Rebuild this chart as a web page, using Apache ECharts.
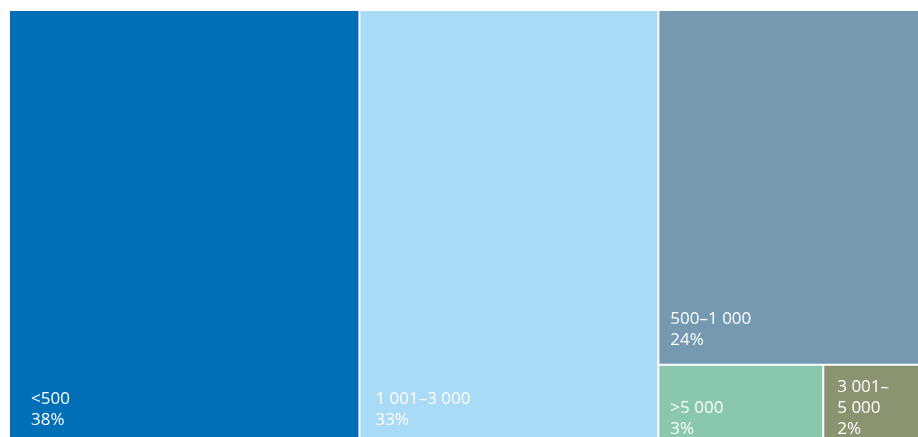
<!DOCTYPE html>
<html>
<head>
<meta charset="utf-8">
<script src="https://cdn.jsdelivr.net/npm/echarts@6/dist/echarts.min.js"></script>
<style>
  html, body { margin: 0; padding: 0; background: #fff; }
  #chart { width: 918px; height: 437px; }
</style>
</head>
<body>
<div id="chart"></div>
<script>
// size classes and their share (%)
var categories = ["<500", "1 001–3 000", "500–1 000", ">5 000", "3 001–5 000"];
var shares = [38.45, 32.8, 23.7, 3.1, 1.8];
var colors = ["#006fb7", "#a9daf6", "#7499b0", "#89c8ad", "#8a9470"];
// label nudges so the text sits where it does in the original
var labelOffsets = [[21, -6], [15, -6], [11, -13], [11, 3], [13, 3]];

var chart = echarts.init(document.getElementById("chart"));

var data = categories.map(function (name, i) {
  return {
    name: name,
    value: shares[i],
    itemStyle: { color: colors[i] },
    label: { offset: labelOffsets[i] }
  };
});

var option = {
  series: [
    {
      type: "treemap",
      left: 10,
      top: 11,
      right: 0,
      bottom: 0,
      roam: false,
      nodeClick: false,
      breadcrumb: { show: false },
      squareRatio: 1,
      itemStyle: {
        borderWidth: 0,
        gapWidth: 2,
        borderColor: "#fff"
      },
      label: {
        show: true,
        position: "insideBottomLeft",
        distance: 0,
        padding: 0,
        color: "#fff",
        fontFamily: "Open Sans",
        fontSize: 17,
        lineHeight: 21,
        overflow: "none",
        formatter: function (p) {
          var name = p.name;
          if (name === "3 001–5 000") name = "3 001–\n5 000";
          return name + "\n" + Math.round(p.value) + "%";
        }
      },
      emphasis: { disabled: true },
      data: data
    }
  ]
};

chart.setOption(option);
window.addEventListener("resize", function () {
  chart.resize();
});
</script>
</body>
</html>
